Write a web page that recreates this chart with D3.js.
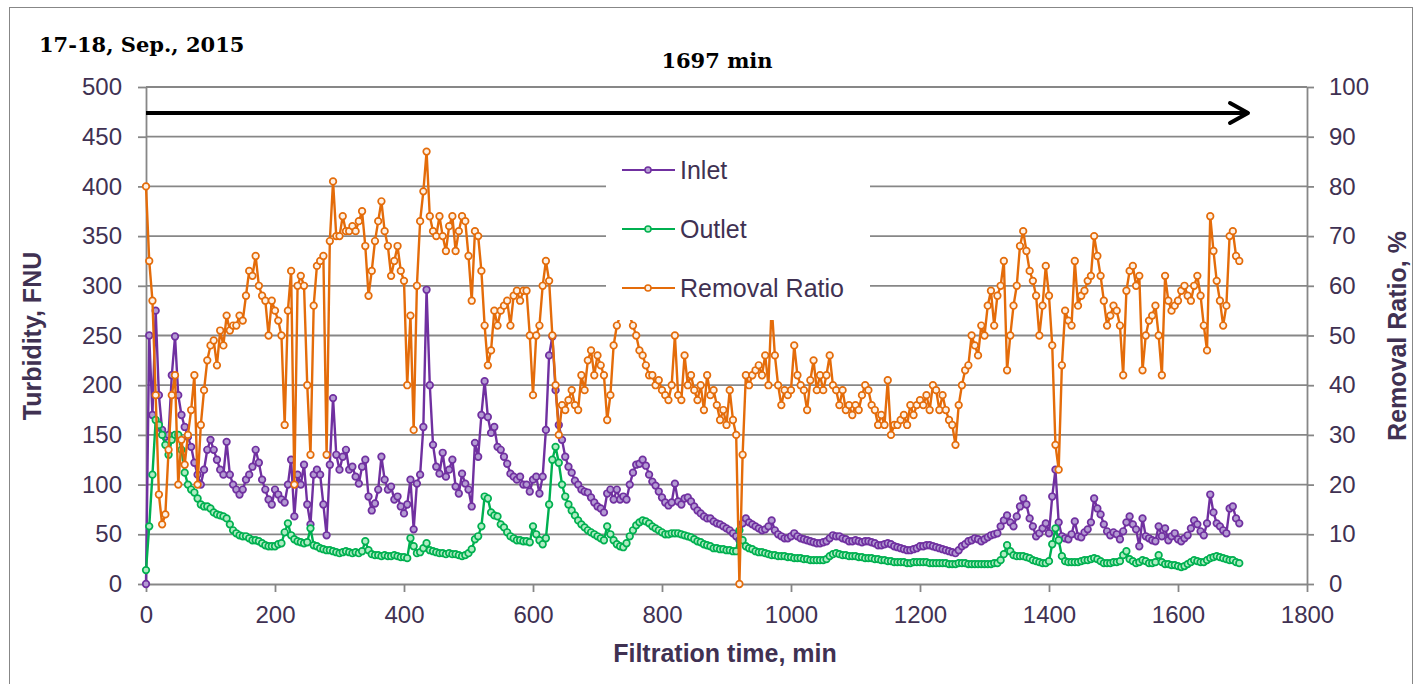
<!DOCTYPE html>
<html>
<head>
<meta charset="utf-8">
<script src="https://cdn.jsdelivr.net/npm/d3@7"></script>
<style>
  body { margin: 0; background: #fff; }
  svg { display: block; }
  text { font-family: Arial, "Liberation Sans", sans-serif; fill: #403152; }
</style>
</head>
<body>
<svg id="chart" width="1418" height="684"></svg>
<script>
// sampling instants, min
const minutes = [
  0,5,10,15,20,25,30,35,40,45,50,55,60,65,70,75,80,85,90,95,
  100,105,110,115,120,125,130,135,140,145,150,155,160,165,170,175,180,185,190,195,
  200,205,210,215,220,225,230,235,240,245,250,255,260,265,270,275,280,285,290,295,
  300,305,310,315,320,325,330,335,340,345,350,355,360,365,370,375,380,385,390,395,
  400,405,410,415,420,425,430,435,440,445,450,455,460,465,470,475,480,485,490,495,
  500,505,510,515,520,525,530,535,540,545,550,555,560,565,570,575,580,585,590,595,
  600,605,610,615,620,625,630,635,640,645,650,655,660,665,670,675,680,685,690,695,
  700,705,710,715,720,725,730,735,740,745,750,755,760,765,770,775,780,785,790,795,
  800,805,810,815,820,825,830,835,840,845,850,855,860,865,870,875,880,885,890,895,
  900,905,910,915,920,925,930,935,940,945,950,955,960,965,970,975,980,985,990,995,
  1000,1005,1010,1015,1020,1025,1030,1035,1040,1045,1050,1055,1060,1065,1070,1075,1080,1085,1090,1095,
  1100,1105,1110,1115,1120,1125,1130,1135,1140,1145,1150,1155,1160,1165,1170,1175,1180,1185,1190,1195,
  1200,1205,1210,1215,1220,1225,1230,1235,1240,1245,1250,1255,1260,1265,1270,1275,1280,1285,1290,1295,
  1300,1305,1310,1315,1320,1325,1330,1335,1340,1345,1350,1355,1360,1365,1370,1375,1380,1385,1390,1395,
  1400,1405,1410,1415,1420,1425,1430,1435,1440,1445,1450,1455,1460,1465,1470,1475,1480,1485,1490,1495,
  1500,1505,1510,1515,1520,1525,1530,1535,1540,1545,1550,1555,1560,1565,1570,1575,1580,1585,1590,1595,
  1600,1605,1610,1615,1620,1625,1630,1635,1640,1645,1650,1655,1660,1665,1670,1675,1680,1685,1690,1695
];

// Inlet turbidity, FNU
const inlet = [
  0,250,170,275,190,155,148,150,210,249, 190,170,158,148,138,122,110,100,115,135,
  145,135,125,115,110,143,110,100,95,90, 95,105,110,118,135,122,105,95,85,80,
  95,90,85,82,100,125,68,110,100,120, 80,60,110,115,110,80,49,120,187,130,
  115,128,135,115,118,108,101,118,125,88, 74,81,95,128,105,95,98,85,88,78,
  71,80,105,55,101,110,158,296,200,140, 118,111,132,108,115,125,98,91,111,101,
  95,78,142,128,170,204,168,152,158,138, 135,128,121,111,108,105,108,100,100,93,
  105,108,91,108,155,230,249,195,160,145, 128,118,112,104,100,95,93,92,87,82,
  78,76,72,91,95,85,95,85,88,85, 100,112,120,121,125,119,110,103,99,93,
  87,82,79,82,101,83,80,86,87,83, 78,74,71,68,66,66,63,61,60,58,
  56,54,51,48,44,61,66,62,60,58, 56,54,55,58,64,54,50,48,46,46,
  48,51,48,46,45,44,43,42,41,41, 42,43,46,49,48,48,46,45,43,43,
  44,43,42,43,43,42,41,39,39,40, 41,40,38,37,36,35,34,34,35,36,
  38,38,39,39,38,37,36,35,34,33, 32,31,34,38,40,43,44,46,45,43,
  45,47,49,50,51,58,64,69,62,58, 68,78,86,80,66,58,48,51,56,61,
  51,88,115,62,48,46,45,50,63,48, 47,52,55,62,86,76,70,60,53,49,
  52,50,45,53,62,68,60,55,38,66, 48,46,44,43,58,48,56,44,48,51,
  45,43,46,49,56,64,60,53,49,61, 90,72,61,58,54,51,76,78,66,61
];

// Outlet turbidity, FNU
const outlet = [
  14,58,110,165,160,150,140,130,145,150, 150,135,112,100,95,92,86,80,78,78,
  76,72,70,69,68,66,60,54,51,49, 48,48,46,44,44,43,41,39,38,38,
  38,40,41,52,61,49,45,43,42,41, 42,56,39,38,36,35,34,34,33,32,
  31,32,33,32,31,32,31,33,43,34, 30,29,29,28,29,28,28,29,28,27,
  27,26,46,38,31,32,36,41,34,33, 32,31,31,30,31,30,30,29,28,29,
  31,35,45,48,58,88,86,72,69,68, 60,57,52,48,46,44,44,43,43,42,
  58,50,44,40,46,80,125,138,122,100, 88,80,74,69,64,60,57,54,52,50,
  48,46,44,58,50,44,40,38,37,41, 48,54,59,62,64,63,61,58,56,54,
  52,50,50,51,51,51,50,49,48,47, 45,43,42,40,39,38,36,36,35,35,
  34,34,33,33,54,44,38,36,35,33, 32,32,31,30,29,29,28,28,28,27,
  27,26,26,26,25,25,24,24,24,24, 24,25,28,30,31,30,29,29,28,28,
  28,27,27,26,26,26,25,25,24,24, 23,23,22,22,22,22,21,21,22,22,
  22,22,22,21,21,21,21,21,21,20, 20,20,21,21,21,20,20,20,20,20,
  20,20,20,21,21,24,30,39,33,29, 28,28,28,27,26,24,23,22,21,21,
  23,40,56,44,28,23,22,22,22,22, 23,24,24,25,26,25,23,21,21,21,
  22,22,23,29,33,25,23,21,22,24, 23,21,21,22,29,22,20,20,19,19,
  18,17,18,20,22,24,23,22,22,24, 26,27,28,27,26,25,24,24,22,21
];

// Removal ratio, %
const removal = [
  80,65,57,38,18,12,14,27,38,42, 20,29,24,30,35,42,20,32,39,45,
  48,49,44,51,48,54,51,52,52,54, 53,58,63,62,66,60,58,57,50,57,
  55,53,50,32,55,63,20,60,62,60, 40,26,56,64,65,66,26,69,81,70,
  70,74,71,71,72,71,73,75,68,58, 63,69,73,77,71,68,62,65,68,63,
  61,40,54,31,60,73,79,87,74,71, 70,74,70,67,72,74,67,71,74,73,
  66,57,71,70,63,52,44,47,55,52, 55,56,57,52,58,59,57,59,59,50,
  38,50,52,60,65,61,50,40,30,36, 35,37,39,36,35,42,39,45,47,42,
  46,44,42,33,38,48,52,54,56,56, 54,52,50,47,46,44,42,42,40,41,
  39,38,37,40,50,38,37,46,40,42, 39,37,40,35,42,38,39,36,33,35,
  32,39,33,30,0,26,42,40,42,43, 44,42,46,40,56,46,40,36,39,38,
  39,48,42,40,39,35,41,45,39,42, 39,42,46,40,39,36,39,35,36,34,
  36,35,38,40,39,36,35,32,34,32, 41,30,32,32,33,34,32,36,34,36,
  37,36,38,35,40,39,35,38,35,33, 32,28,36,40,43,44,50,48,46,52,
  50,56,59,52,58,60,65,43,50,56, 60,68,71,67,63,61,58,50,56,64,
  58,48,28,23,44,55,53,52,65,56, 58,59,61,62,70,66,62,57,52,54,
  56,55,52,42,59,63,64,60,62,43, 50,53,54,56,50,42,62,57,55,56,
  57,59,60,58,57,60,62,58,52,47, 74,67,61,57,52,56,70,71,66,65
];

const leftTicks = [0, 50, 100, 150, 200, 250, 300, 350, 400, 450, 500];
const rightTicks = [0, 10, 20, 30, 40, 50, 60, 70, 80, 90, 100];
const timeTicks = [0, 200, 400, 600, 800, 1000, 1200, 1400, 1600, 1800];
const seriesNames = ["Inlet", "Outlet", "Removal Ratio"];
const dateLabel = "17-18, Sep., 2015";
const durationLabel = "1697 min";

const svg = d3.select("#chart");
const gray = "#878787";
const textColor = "#403152";

const x = d3.scaleLinear().domain([0, 1800]).range([146, 1307]);
const y = d3.scaleLinear().domain([0, 500]).range([584, 87]);
const yR = d3.scaleLinear().domain([0, 100]).range([584, 87]);

// outer frame
svg.append("rect")
  .attr("x", 9.5).attr("y", 7.5)
  .attr("width", 1403).attr("height", 700)
  .attr("fill", "none").attr("stroke", gray).attr("stroke-width", 1);

// gridlines
svg.append("g")
  .selectAll("line")
  .data(leftTicks.filter(d => d > 0))
  .join("line")
  .attr("x1", x(0)).attr("x2", x(1800))
  .attr("y1", d => y(d)).attr("y2", d => y(d))
  .attr("stroke", gray).attr("stroke-width", 1.8);

function styleAxis(g) {
  g.selectAll("path.domain").attr("stroke", gray).attr("stroke-width", 1.8);
  g.selectAll(".tick line").attr("stroke", gray).attr("stroke-width", 1.8);
  g.selectAll(".tick text")
    .attr("font-size", 24)
    .attr("font-family", "Arial, 'Liberation Sans', sans-serif")
    .attr("fill", textColor);
}

const fmt = d3.format("d");

svg.append("g")
  .attr("transform", "translate(146,0)")
  .call(d3.axisLeft(y).tickValues(leftTicks).tickFormat(fmt).tickSize(8).tickSizeOuter(0).tickPadding(16))
  .call(styleAxis);

svg.append("g")
  .attr("transform", "translate(1307,0)")
  .call(d3.axisRight(yR).tickValues(rightTicks).tickFormat(fmt).tickSize(7).tickSizeOuter(0).tickPadding(15))
  .call(styleAxis);

svg.append("g")
  .attr("transform", "translate(0,584)")
  .call(d3.axisBottom(x).tickValues(timeTicks).tickFormat(fmt).tickSize(8).tickSizeOuter(0).tickPadding(14))
  .call(styleAxis);

// series
const series = [
  { name: seriesNames[0], values: inlet, scale: y, color: "#7030A0", fill: "#b49bd3" },
  { name: seriesNames[1], values: outlet, scale: y, color: "#00B050", fill: "#b0ecc3" },
  { name: seriesNames[2], values: removal, scale: yR, color: "#E46C0A", fill: "#fdf1e6" }
];

series.forEach(s => {
  const line = d3.line()
    .x((d, i) => x(minutes[i]))
    .y(d => s.scale(d));
  const g = svg.append("g");
  g.append("path")
    .datum(s.values)
    .attr("d", line)
    .attr("fill", "none")
    .attr("stroke", s.color)
    .attr("stroke-width", 2.4)
    .attr("stroke-linejoin", "round");
  g.selectAll("circle")
    .data(s.values)
    .join("circle")
    .attr("cx", (d, i) => x(minutes[i]))
    .attr("cy", d => s.scale(d))
    .attr("r", 3.3)
    .attr("fill", s.fill)
    .attr("stroke", s.color)
    .attr("stroke-width", 1.7);
});

// legend
const legend = svg.append("g");
legend.append("rect")
  .attr("x", 606).attr("y", 150)
  .attr("width", 264).attr("height", 170)
  .attr("fill", "#fff");
series.forEach((s, i) => {
  const ly = 170 + i * 59;
  legend.append("line")
    .attr("x1", 622).attr("x2", 675)
    .attr("y1", ly).attr("y2", ly)
    .attr("stroke", s.color).attr("stroke-width", 2.2);
  legend.append("circle")
    .attr("cx", 648).attr("cy", ly).attr("r", 3)
    .attr("fill", s.fill).attr("stroke", s.color).attr("stroke-width", 1.5);
  legend.append("text")
    .attr("x", 680).attr("y", ly)
    .attr("dy", "0.36em")
    .attr("font-size", 25)
    .text(s.name);
});

// duration arrow
svg.append("line")
  .attr("x1", x(0)).attr("x2", 1248)
  .attr("y1", 113).attr("y2", 113)
  .attr("stroke", "#000").attr("stroke-width", 4);
svg.append("path")
  .attr("d", "M1230,103 L1248,113 L1230,123")
  .attr("fill", "none").attr("stroke", "#000")
  .attr("stroke-width", 4).attr("stroke-linecap", "round").attr("stroke-linejoin", "round");

// titles
svg.append("text")
  .attr("x", 39).attr("y", 52)
  .style("font-family", "'DejaVu Serif', serif")
  .style("fill", "#000")
  .attr("font-weight", "bold").attr("font-size", 21)
  .text(dateLabel);

svg.append("text")
  .attr("x", 717).attr("y", 68)
  .attr("text-anchor", "middle")
  .style("font-family", "'DejaVu Serif', serif")
  .style("fill", "#000")
  .attr("font-weight", "bold").attr("font-size", 21)
  .text(durationLabel);

svg.append("text")
  .attr("x", 725).attr("y", 662)
  .attr("text-anchor", "middle")
  .attr("font-weight", "bold").attr("font-size", 25)
  .text("Filtration time, min");

svg.append("text")
  .attr("transform", "translate(41,336) rotate(-90)")
  .attr("text-anchor", "middle")
  .attr("font-weight", "bold").attr("font-size", 25)
  .text("Turbidity, FNU");

svg.append("text")
  .attr("transform", "translate(1406,336) rotate(-90)")
  .attr("text-anchor", "middle")
  .attr("font-weight", "bold").attr("font-size", 25)
  .text("Removal Ratio, %");
</script>
</body>
</html>
